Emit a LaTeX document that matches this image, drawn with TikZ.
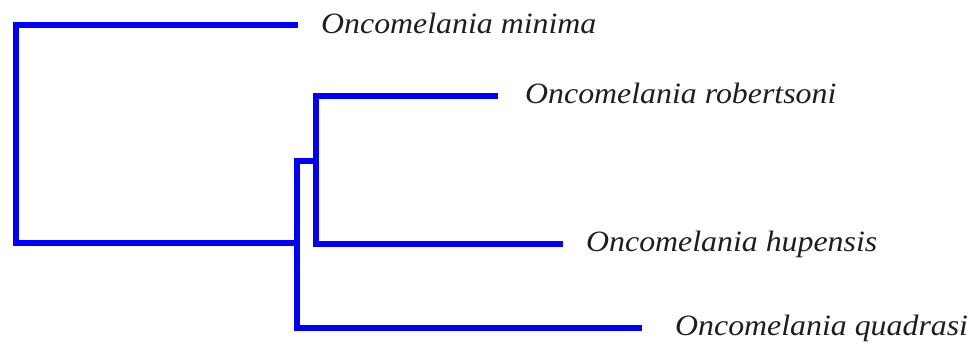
\documentclass[tikz,border=0pt]{standalone}
\usepackage{fontspec}
\setmainfont{Liberation Serif}[FakeStretch=1.08]
\begin{document}
\begin{tikzpicture}[x=1pt,y=-1pt,
  branch/.style={draw={rgb,255:red,0;green,0;blue,255}, line width=6.5pt, line join=miter, line cap=butt},
  leaflabel/.style={anchor=base west, inner sep=0pt, font=\fontsize{29.5}{30}\selectfont\itshape, text={rgb,255:red,30;green,30;blue,30}}]
\useasboundingbox (0,0) rectangle (971,349);
% tips of branches
\coordinate (tmin) at (298,25);
\coordinate (trob) at (498,96);
\coordinate (thup) at (563,244);
\coordinate (tqua) at (642,328);
% internal nodes
\coordinate (root) at (16,134);
\coordinate (nA) at (297,243);
\coordinate (nB) at (316,161);
% labels
\node[leaflabel] (lmin) at (321,33) {Oncomelania minima};
\node[leaflabel] (lrob) at (525,103.5) {Oncomelania robertsoni};
\node[leaflabel] (lhup) at (586,251) {Oncomelania hupensis};
\node[leaflabel] (lqua) at (675,335.5) {Oncomelania quadrasi};
% branches
\draw[branch] (tmin) -| (root) |- (nA);
\draw[branch] (nB) -- (nA |- nB) |- (tqua);
\draw[branch] (trob) -| (nB) |- (thup);
\end{tikzpicture}
\end{document}
